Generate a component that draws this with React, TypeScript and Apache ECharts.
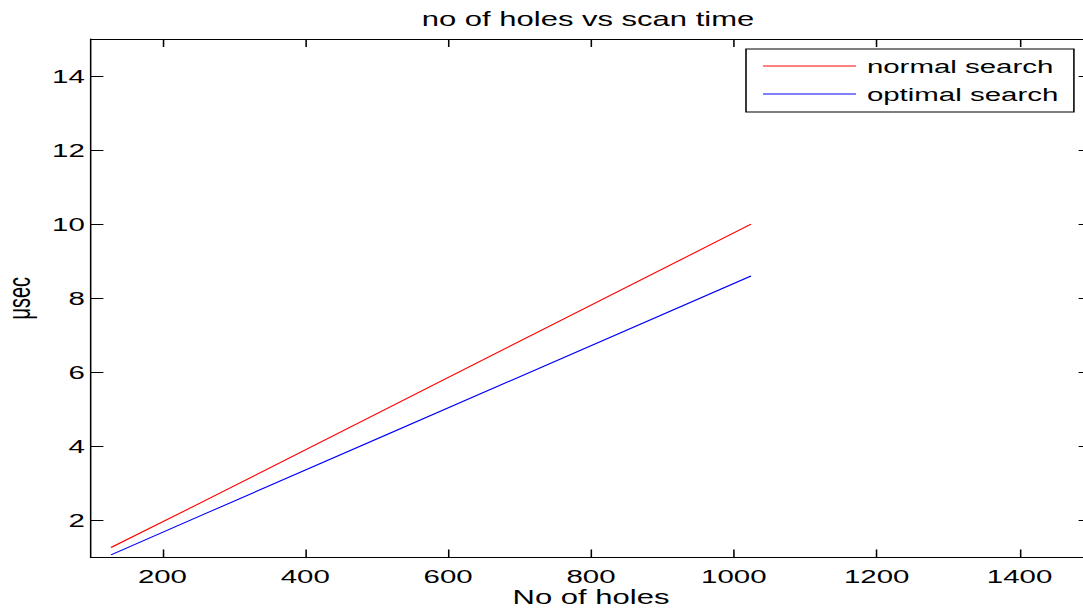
import React, { useEffect, useRef } from "react";
import * as echarts from "echarts";

const holes = [128, 256, 512, 1024];
const normalSearch = [1.27, 2.5, 5.0, 10.0];
const optimalSearch = [1.07, 2.15, 4.3, 8.6];
const xTicks = [200, 400, 600, 800, 1000, 1200, 1400];
const yTicks = [2, 4, 6, 8, 10, 12, 14];

const S = 1.55; // horizontal stretch of the reference
const FONT = "'Liberation Sans', Arial, Helvetica, sans-serif";

export default function App() {
  const ref = useRef<HTMLDivElement>(null);
  useEffect(() => {
    if (!ref.current) return;
    const chart = echarts.init(ref.current, undefined, { renderer: "svg" });
    const gridLeft = 91 / S;
    const gridRightPx = 1091 / S;
    const axisCommon = {
      axisLine: { show: true, lineStyle: { color: "#000", width: 1 } },
      axisTick: { show: true, inside: true, length: 8, lineStyle: { color: "#000", width: 1 } },
      splitLine: { show: false },
    };
    const plain = (v: number) => String(v);
    chart.setOption({
      animation: false,
      backgroundColor: "#fff",
      title: {
        text: "no of holes vs scan time",
        left: 588 / S,
        top: 9,
        padding: 0,
        textAlign: "center",
        textStyle: { fontFamily: FONT, fontSize: 20, fontWeight: "normal", color: "#000" },
      },
      legend: {
        orient: "vertical",
        left: 746 / S,
        top: 49,
        padding: [7, 10, 8, 11],
        itemWidth: 60,
        itemHeight: 1,
        itemGap: 8,
        icon: "rect",
        borderColor: "#000",
        borderWidth: 1,
        backgroundColor: "#fff",
        textStyle: { fontFamily: FONT, fontSize: 19, lineHeight: 20, color: "#000", padding: [0, 0, 0, 2] },
        data: [
          { name: "normal search", itemStyle: { color: "#ff0000", borderWidth: 0 } },
          { name: "optimal search", itemStyle: { color: "#0000ff", borderWidth: 0 } },
        ],
      },
      grid: {
        left: gridLeft,
        top: 39,
        width: gridRightPx - gridLeft,
        height: 518.5,
        containLabel: false,
        outerBoundsMode: "none",
      },
      xAxis: [
        {
          type: "value",
          position: "bottom",
          min: 100,
          max: 1500,
          ...axisCommon,
          axisTick: { ...axisCommon.axisTick, customValues: xTicks },
          axisLabel: {
            customValues: xTicks,
            formatter: plain,
            margin: 9,
            fontFamily: FONT,
            fontSize: 19,
            lineHeight: 19,
            color: "#000",
          },
          name: "No of holes",
          nameLocation: "middle",
          nameGap: 31,
          nameMoveOverlap: false,
          nameTextStyle: { fontFamily: FONT, fontSize: 20, lineHeight: 18, color: "#000" },
        },
        {
          type: "value",
          position: "top",
          min: 100,
          max: 1500,
          ...axisCommon,
          axisTick: { ...axisCommon.axisTick, customValues: xTicks },
          axisLabel: { show: false },
        },
      ],
      yAxis: [
        {
          type: "value",
          position: "left",
          min: 1,
          max: 15,
          ...axisCommon,
          axisTick: { ...axisCommon.axisTick, customValues: yTicks },
          axisLabel: {
            customValues: yTicks,
            formatter: plain,
            margin: 4,
            fontFamily: FONT,
            fontSize: 19,
            color: "#000",
          },
          name: "\u03bcsec",
          nameLocation: "middle",
          nameRotate: 90,
          nameGap: 36,
          nameTextStyle: { fontFamily: FONT, fontSize: 20, color: "#000" },
        },
        {
          type: "value",
          position: "right",
          min: 1,
          max: 15,
          ...axisCommon,
          axisTick: { ...axisCommon.axisTick, customValues: yTicks },
          axisLabel: { show: false },
        },
      ],
      series: [
        {
          name: "normal search",
          type: "line",
          data: holes.map((x, i) => [x, normalSearch[i]]),
          symbol: "none",
          showSymbol: false,
          lineStyle: { color: "#ff0000", width: 1 },
          itemStyle: { color: "#ff0000" },
        },
        {
          name: "optimal search",
          type: "line",
          data: holes.map((x, i) => [x, optimalSearch[i]]),
          symbol: "none",
          showSymbol: false,
          lineStyle: { color: "#0000ff", width: 1 },
          itemStyle: { color: "#0000ff" },
        },
      ],
    });
    return () => chart.dispose();
  }, []);

  return (
    <div
      style={{
        position: "fixed",
        left: 0,
        top: 0,
        width: 1083,
        height: 608,
        overflow: "hidden",
        background: "#fff",
      }}
    >
      <div
        ref={ref}
        style={{
          width: 710,
          height: 608,
          transform: `scaleX(${S})`,
          transformOrigin: "0 0",
        }}
      />
    </div>
  );
}
